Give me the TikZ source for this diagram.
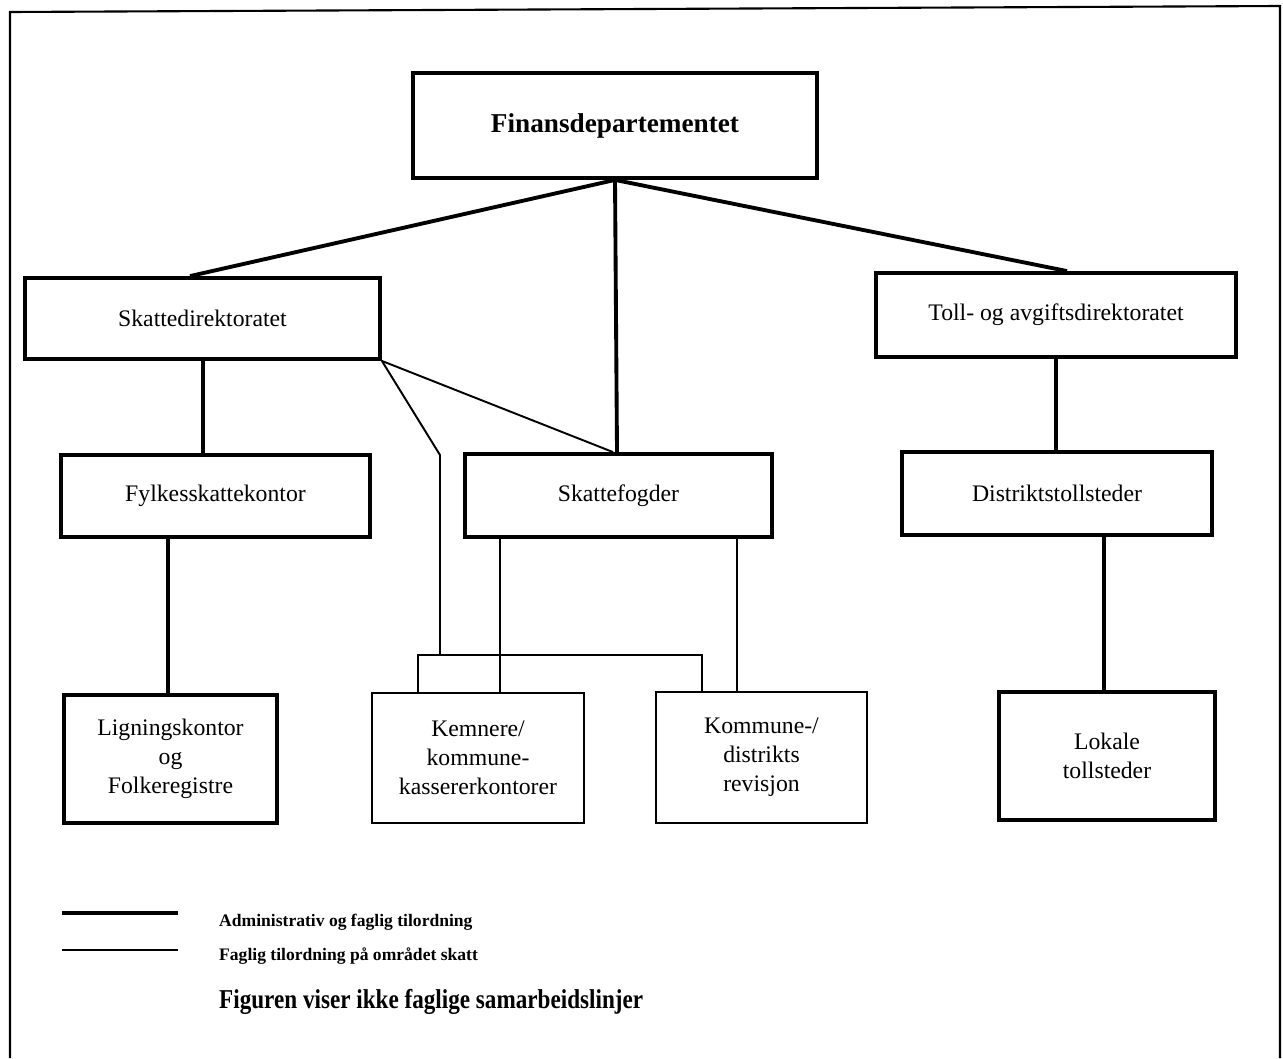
\documentclass[tikz,border=0pt]{standalone}
\usepackage{fontspec}
\setmainfont{Liberation Serif}
\newfontfamily\notefont[FakeStretch=0.85]{Liberation Serif}
\begin{document}
\begin{tikzpicture}[x=0.02cm, y=-0.02cm, font=\fontsize{13.5}{16.5}\selectfont,
  box/.style={draw, line width=2.2pt, align=center, inner sep=0pt},
  lightbox/.style={box, line width=1.1pt},
  hard/.style={line width=2.2pt},
  soft/.style={line width=1.1pt},
  legend/.style={anchor=west, font=\fontsize{10}{12}\selectfont\bfseries}]
  \useasboundingbox (0,0) rectangle (1283,1058);
  % ramme
  \draw[line width=1.2pt] (10,1058) -- (10,12) -- (1280,6) -- (1280,1058);
  % departement
  \node[box, minimum width=8.08cm, minimum height=2.1cm, font=\fontsize{15.5}{18}\selectfont\bfseries] (fin) at (615,125.5) {Finansdepartementet};
  % direktorater
  \node[box, minimum width=7.1cm, minimum height=1.62cm] (skdir) at (202.5,318.5) {Skattedirektoratet};
  \node[box, minimum width=7.2cm, minimum height=1.68cm] (toll) at (1056,315) {Toll- og avgiftsdirektoratet};
  % regionalt nivå
  \node[box, minimum width=6.18cm, minimum height=1.64cm] (fylke) at (215.5,496) {Fylkesskattekontor};
  \node[box, minimum width=6.14cm, minimum height=1.66cm] (fogd) at (618.5,495.5) {Skattefogder};
  \node[box, minimum width=6.2cm, minimum height=1.66cm] (distr) at (1057,493.5) {Distriktstollsteder};
  % lokalt nivå
  \node[box, minimum width=4.26cm, minimum height=2.56cm] (lign) at (170.5,759) {Ligningskontor\\og\\Folkeregistre};
  \node[lightbox, minimum width=4.24cm, minimum height=2.6cm] (kemn) at (478,758) {Kemnere/\\kommune-\\kassererkontorer};
  \node[lightbox, minimum width=4.22cm, minimum height=2.62cm] (revi) at (761.5,757.5) {Kommune-/\\distrikts\\revisjon};
  \node[box, minimum width=4.32cm, minimum height=2.56cm] (lokal) at (1107,756) {Lokale\\tollsteder};
  % administrativ og faglig tilordning
  \draw[hard] (fin.south) -- (skdir.north -| 190,0);
  \draw[hard] (fin.south) -- (fogd.north -| 617,0);
  \draw[hard] (fin.south) -- (toll.north -| 1067,0);
  \draw[hard] (skdir.south -| 203,0) -- (fylke.north -| 203,0);
  \draw[hard] (fylke.south -| 168,0) -- (lign.north -| 168,0);
  \draw[hard] (toll.south -| 1056,0) -- (distr.north -| 1056,0);
  \draw[hard] (distr.south -| 1104,0) -- (lokal.north -| 1104,0);
  % faglig tilordning skatt
  \coordinate (bend) at (440,455);
  \coordinate (bl) at (418,655);
  \coordinate (br) at (702,655);
  \draw[soft] (skdir.south east) -- (fogd.north -| 613,0);
  \draw[soft] (skdir.south east) -- (bend) -- (bend |- bl);
  \draw[soft] (kemn.north -| bl) -- (bl) -- (br) -- (revi.north -| br);
  \draw[soft] (fogd.south -| 500,0) -- (kemn.north -| 500,0);
  \draw[soft] (fogd.south -| 737,0) -- (revi.north -| 737,0);
  % forklaring
  \node[legend] (adm) at (213,922) {Administrativ og faglig tilordning};
  \node[legend] (fag) at (213,956) {Faglig tilordning på området skatt};
  \draw[hard] (62,913) -- (178,913);
  \draw[line width=1.6pt] (62,950) -- (178,950);
  \node[anchor=west, font=\notefont\fontsize{15.5}{18}\selectfont\bfseries] (note) at (213,1002) {Figuren viser ikke faglige samarbeidslinjer};
\end{tikzpicture}
\end{document}
